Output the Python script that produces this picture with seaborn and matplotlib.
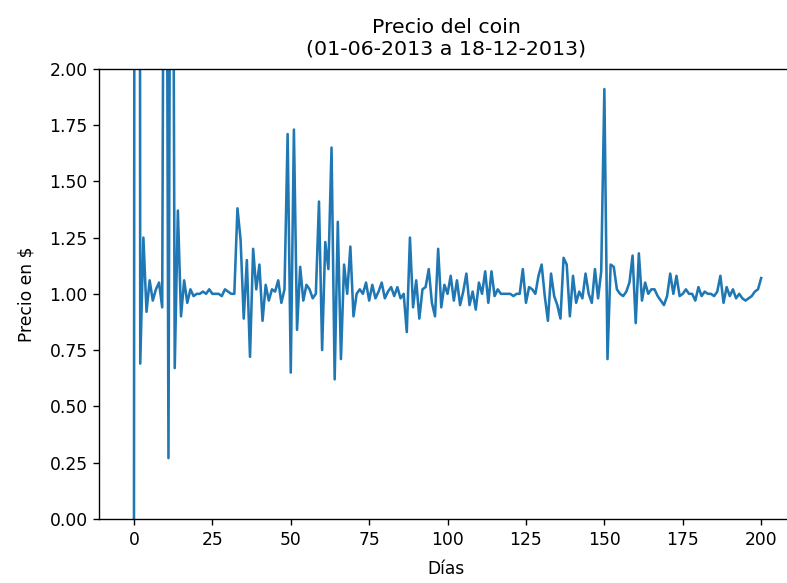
import matplotlib
matplotlib.use("Agg")
import matplotlib.pyplot as plt
import pandas as pd
import seaborn as sns

# Precio relativo diario
precio = [
    0.00, 20.0, 0.69, 1.25, 0.92, 1.06, 0.97, 1.02, 1.05, 0.94,
    5.00, 0.27, 5.00, 0.67, 1.37, 0.90, 1.06, 0.96, 1.02, 0.99,
    1.00, 1.00, 1.01, 1.00, 1.02, 1.00, 1.00, 1.00, 0.99, 1.02,
    1.01, 1.00, 1.00, 1.38, 1.24, 0.89, 1.15, 0.72, 1.20, 1.02,
    1.13, 0.88, 1.04, 0.97, 1.02, 1.01, 1.06, 0.96, 1.02, 1.71,
    0.65, 1.73, 0.84, 1.12, 0.97, 1.04, 1.02, 0.98, 1.00, 1.41,
    0.75, 1.23, 1.11, 1.65, 0.62, 1.32, 0.71, 1.13, 1.00, 1.21,
    0.90, 1.00, 1.02, 1.00, 1.05, 0.97, 1.04, 0.98, 1.01, 1.05,
    0.98, 1.01, 1.03, 0.99, 1.03, 0.98, 1.00, 0.83, 1.25, 0.94,
    1.06, 0.89, 1.02, 1.03, 1.11, 0.96, 0.90, 1.20, 0.94, 1.04,
    1.00, 1.08, 0.97, 1.06, 0.95, 1.01, 1.09, 0.95, 1.01, 0.93,
    1.05, 1.00, 1.10, 0.96, 1.10, 0.99, 1.02, 1.00, 1.00, 1.00,
    1.00, 0.99, 1.00, 1.00, 1.11, 0.96, 1.03, 1.02, 1.00, 1.08,
    1.13, 0.99, 0.88, 1.09, 0.99, 0.95, 0.89, 1.16, 1.13, 0.90,
    1.08, 0.96, 1.01, 0.98, 1.09, 1.00, 0.96, 1.11, 0.98, 1.10,
    1.91, 0.71, 1.13, 1.12, 1.02, 1.00, 0.99, 1.01, 1.05, 1.17,
    0.87, 1.18, 0.97, 1.05, 1.00, 1.02, 1.02, 0.99, 0.97, 0.95,
    0.99, 1.09, 1.00, 1.08, 0.99, 1.00, 1.02, 1.00, 1.00, 0.97,
    1.03, 0.99, 1.01, 1.00, 1.00, 0.99, 1.01, 1.08, 0.96, 1.03,
    0.99, 1.02, 0.98, 1.00, 0.98, 0.97, 0.98, 0.99, 1.01, 1.02,
    1.07,
]

titulo = 'Precio del coin\n(01-06-2013 a 18-12-2013)'

df = pd.DataFrame({'precio': precio})
df['dia'] = df.index

s = 1.23  # escala respecto al tamano por defecto
plt.rcParams.update({
    'font.size': 10 * s,
    'axes.linewidth': 0.8 * s,
    'xtick.major.size': 3.5 * s,
    'ytick.major.size': 3.5 * s,
    'xtick.major.width': 0.8 * s,
    'ytick.major.width': 0.8 * s,
    'xtick.major.pad': 3.5 * s,
    'ytick.major.pad': 3.5 * s,
})

fig = plt.figure(figsize=(7.87, 5.83), dpi=100)
# el eje derecho queda fuera de la imagen, como en el original
ax = fig.add_axes([0.1264, 0.110, 0.8806, 0.772])

sns.lineplot(data=df, x='dia', y='precio', ax=ax, linewidth=1.5 * s, color='#1f77b4')

ax.set_xlim(-11, 210)
ax.set_ylim(0, 2)
ax.set_title(titulo, fontsize=12 * s, pad=10)
ax.set_xlabel('Días', labelpad=8)
ax.set_ylabel('Precio en $', labelpad=10)

fig.savefig('out.png', dpi=100)
